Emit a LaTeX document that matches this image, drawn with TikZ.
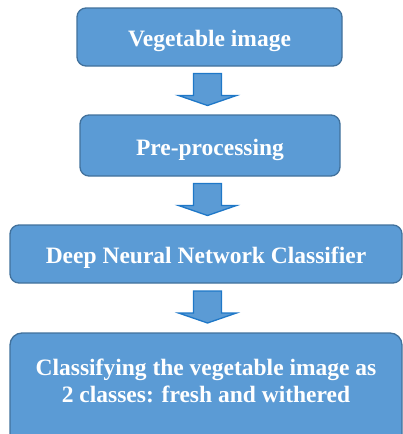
\documentclass[tikz,border=0pt]{standalone}
\usepackage{fontspec}
\setmainfont{Liberation Serif}
\usetikzlibrary{calc}
\definecolor{boxblue}{HTML}{5B9BD5}
\definecolor{boxline}{HTML}{41719C}
\definecolor{arrowline}{HTML}{1F78C8}
\newcommand{\flowarrow}[2]{
    \coordinate (m) at ($(#1.south)!0.5!(#2.north) + (0,-1)$);
    \draw[flow] ($(m -| axis) + (-14,-16)$) -- ($(m -| axis) + (14,-16)$) -- ($(m -| axis) + (14,6)$) -- ($(m -| axis) + (29,6)$) -- ($(m -| axis) + (0,16)$) -- ($(m -| axis) + (-29,6)$) -- ($(m -| axis) + (-14,6)$) -- cycle;
}
\begin{document}
    \begin{tikzpicture}[x=1pt, y=-1pt,
            stage/.style = {draw = boxline, line width = 1.3pt, fill = boxblue, rounded corners = 9pt, text = white, font = \bfseries\fontsize{23.5}{27}\selectfont, align = center, inner sep = 0pt, text height = 23pt, text depth = 4pt},
            flow/.style = {draw = arrowline, line width = 1.3pt, fill = boxblue, line join = miter}]
        \useasboundingbox (0,0) rectangle (403,434);
        \coordinate (axis) at (207.5,0);
        \node[stage, minimum width = 265pt, minimum height = 58pt] (image) at (209.5,37) {Vegetable image};
        \node[stage, minimum width = 260pt, minimum height = 61pt] (prep) at (210,145.5) {Pre-processing};
        \node[stage, minimum width = 392pt, minimum height = 58pt] (dnn) at (206,254) {Deep Neural Network Classifier};
        \node[stage, minimum width = 392pt, minimum height = 114pt, rounded corners = 12pt] (classes) at (206,390) {};
        \node[text = white, font = \bfseries\fontsize{23.5}{27}\selectfont, align = center, inner sep = 0pt] (classtext) at (206,381) {Classifying the vegetable image as\\2 classes: fresh and withered};
        \flowarrow{image}{prep}
        \flowarrow{prep}{dnn}
        \flowarrow{dnn}{classes}
    \end{tikzpicture}
\end{document}
